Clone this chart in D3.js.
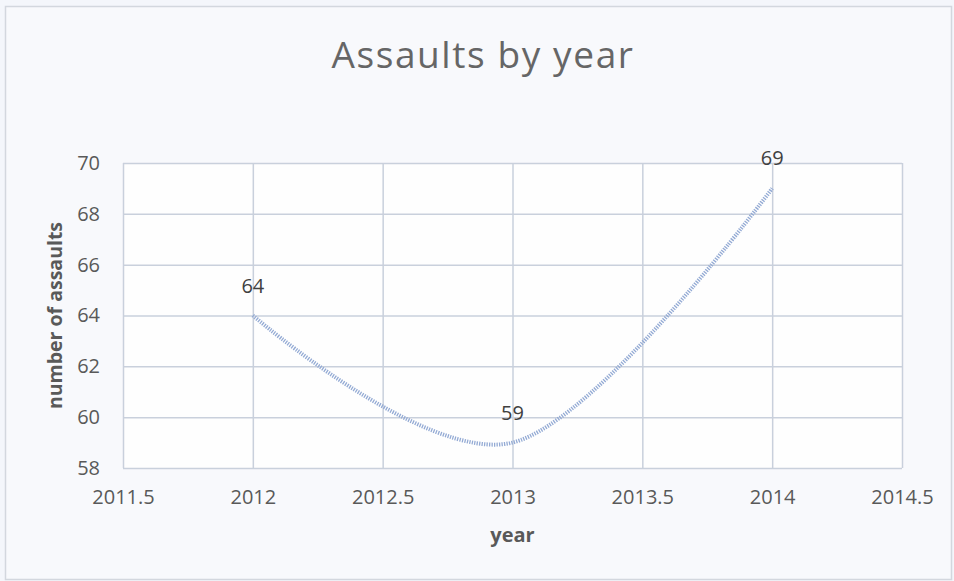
<!DOCTYPE html>
<html>
<head>
<meta charset="utf-8">
<script src="https://cdn.jsdelivr.net/npm/d3@7"></script>
<style>
  body { margin: 0; background: #f4f6fb; }
  svg { display: block; }
</style>
</head>
<body>
<svg id="drawing_region"></svg>
<script>
// data
var years = [2012, 2013, 2014];
var assaults = [64, 59, 69];
var x_ticks = [2011.5, 2012, 2012.5, 2013, 2013.5, 2014, 2014.5];
var y_ticks = [58, 60, 62, 64, 66, 68, 70];

var config = {
    width: 954,
    height: 581,
    margin: {top: 163, right: 52, bottom: 113, left: 123}
};

var font = "'Open Sans', 'Noto Sans', sans-serif";

var svg = d3.select('#drawing_region')
    .attr('width', config.width)
    .attr('height', config.height);

// paper background and chart frame
svg.append('rect')
    .attr('x', 0).attr('y', 0)
    .attr('width', config.width).attr('height', config.height)
    .attr('fill', '#f4f6fb');

svg.append('rect')
    .attr('x', 5.5).attr('y', 6.5)
    .attr('width', config.width - 8).attr('height', config.height - 8)
    .attr('fill', '#f8f9fc')
    .attr('stroke', '#d3d7de')
    .attr('stroke-width', 1.5);

var inner_width = config.width - config.margin.left - config.margin.right;
var inner_height = config.height - config.margin.top - config.margin.bottom;

var chart = svg.append('g')
    .attr('transform', `translate(${config.margin.left}, ${config.margin.top})`);

var xscale = d3.scaleLinear()
    .domain([2011.5, 2014.5])
    .range([0, inner_width]);

var yscale = d3.scaleLinear()
    .domain([58, 70])
    .range([inner_height, 0]);

// plot area
chart.append('rect')
    .attr('width', inner_width)
    .attr('height', inner_height)
    .attr('fill', '#fefefe');

// gridlines
var grid_color = '#c9d0dc';

chart.append('g')
    .call(d3.axisLeft(yscale).tickValues(y_ticks).tickSize(-inner_width).tickFormat(''))
    .call(g => g.select('.domain').remove())
    .selectAll('line')
    .attr('stroke', grid_color)
    .attr('stroke-width', 1.5);

chart.append('g')
    .attr('transform', `translate(0, ${inner_height})`)
    .call(d3.axisBottom(xscale).tickValues(x_ticks).tickSize(inner_height).tickFormat(''))
    .call(g => g.select('.domain').remove())
    .selectAll('line')
    .attr('transform', `translate(0, ${-inner_height})`)
    .attr('stroke', grid_color)
    .attr('stroke-width', 1.5);

// tick labels
var yaxis = chart.append('g')
    .call(d3.axisLeft(yscale).tickValues(y_ticks).tickSize(0).tickPadding(23));
yaxis.select('.domain').remove();
yaxis.selectAll('text')
    .attr('font-family', font)
    .attr('font-size', '20px')
    .attr('fill', '#595959');

var xaxis = chart.append('g')
    .attr('transform', `translate(0, ${inner_height})`)
    .call(d3.axisBottom(xscale).tickValues(x_ticks).tickSize(0).tickPadding(22)
        .tickFormat(d => String(d)));
xaxis.select('.domain').remove();
xaxis.selectAll('text')
    .attr('font-family', font)
    .attr('font-size', '20px')
    .attr('fill', '#595959');

// smoothed line like excel
var points = years.map((y, i) => ({year: y, value: assaults[i]}));

var line = d3.line()
    .x(d => xscale(d.year))
    .y(d => yscale(d.value))
    .curve(d3.curveCardinal.tension(0));

chart.append('path')
    .datum(points)
    .attr('d', line)
    .attr('fill', 'none')
    .attr('stroke', '#93aad4')
    .attr('stroke-width', 4)
    .attr('stroke-dasharray', '1.3 1.2');

// data labels
chart.selectAll('.data_label')
    .data(points)
    .join('text')
    .attr('class', 'data_label')
    .attr('x', d => xscale(d.year))
    .attr('y', d => yscale(d.value) - 23)
    .attr('text-anchor', 'middle')
    .attr('font-family', font)
    .attr('font-size', '20px')
    .attr('fill', '#404040')
    .text(d => d.value);

// title and axis titles
svg.append('text')
    .attr('x', 483)
    .attr('y', 68)
    .attr('text-anchor', 'middle')
    .attr('font-family', font)
    .attr('font-size', '37px')
    .attr('letter-spacing', '1.6px')
    .attr('fill', '#666666')
    .text('Assaults by year');

svg.append('text')
    .attr('x', config.margin.left + xscale(2013))
    .attr('y', 542)
    .attr('text-anchor', 'middle')
    .attr('font-family', font)
    .attr('font-size', '20px')
    .attr('font-weight', 'bold')
    .attr('fill', '#595959')
    .text('year');

svg.append('text')
    .attr('transform', `translate(62, ${config.margin.top + yscale(64)}) rotate(-90)`)
    .attr('text-anchor', 'middle')
    .attr('font-family', font)
    .attr('font-size', '19.5px')
    .attr('font-weight', 'bold')
    .attr('fill', '#595959')
    .text('number of assaults');
</script>
</body>
</html>
